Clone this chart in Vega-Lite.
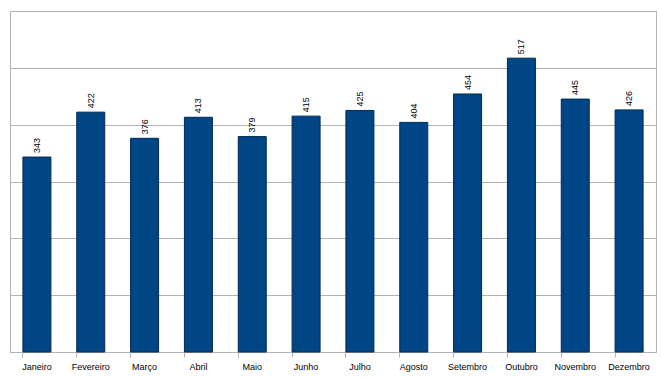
{
  "$schema": "https://vega.github.io/schema/vega-lite/v6.json",
  "width": 646,
  "height": 341,
  "autosize": {"type": "none"},
  "padding": {"left": 10, "top": 11, "right": 5, "bottom": 25},
  "background": "white",
  "config": {
    "view": {"stroke": "#b3b3b3", "strokeWidth": 1},
    "font": "Liberation Sans"
  },
  "data": {
    "values": [
      {"mes": "Janeiro", "valor": 343},
      {"mes": "Fevereiro", "valor": 422},
      {"mes": "Março", "valor": 376},
      {"mes": "Abril", "valor": 413},
      {"mes": "Maio", "valor": 379},
      {"mes": "Junho", "valor": 415},
      {"mes": "Julho", "valor": 425},
      {"mes": "Agosto", "valor": 404},
      {"mes": "Setembro", "valor": 454},
      {"mes": "Outubro", "valor": 517},
      {"mes": "Novembro", "valor": 445},
      {"mes": "Dezembro", "valor": 426}
    ]
  },
  "encoding": {
    "x": {
      "field": "mes",
      "type": "nominal",
      "sort": null,
      "scale": {"paddingInner": 0.48, "paddingOuter": 0.24},
      "axis": {
        "title": null,
        "labelAngle": 0,
        "labelFontSize": 9,
        "labelColor": "#000000",
        "labelPadding": 5,
        "bandPosition": 0,
        "tickColor": "#b3b3b3",
        "tickSize": 5,
        "domainColor": "#b3b3b3",
        "grid": false
      }
    },
    "y": {
      "field": "valor",
      "type": "quantitative",
      "scale": {"domain": [0, 600], "nice": false},
      "axis": {
        "title": null,
        "labels": false,
        "ticks": false,
        "domain": false,
        "values": [0, 100, 200, 300, 400, 500, 600],
        "gridColor": "#b3b3b3",
        "gridOpacity": 1
      }
    }
  },
  "layer": [
    {
      "mark": {"type": "bar", "color": "#004586", "stroke": "#002a52", "strokeWidth": 1}
    },
    {
      "mark": {"type": "text", "angle": 270, "align": "left", "baseline": "middle", "dx": 4, "fontSize": 9, "color": "#000000"},
      "encoding": {"text": {"field": "valor", "type": "quantitative"}}
    }
  ]
}
